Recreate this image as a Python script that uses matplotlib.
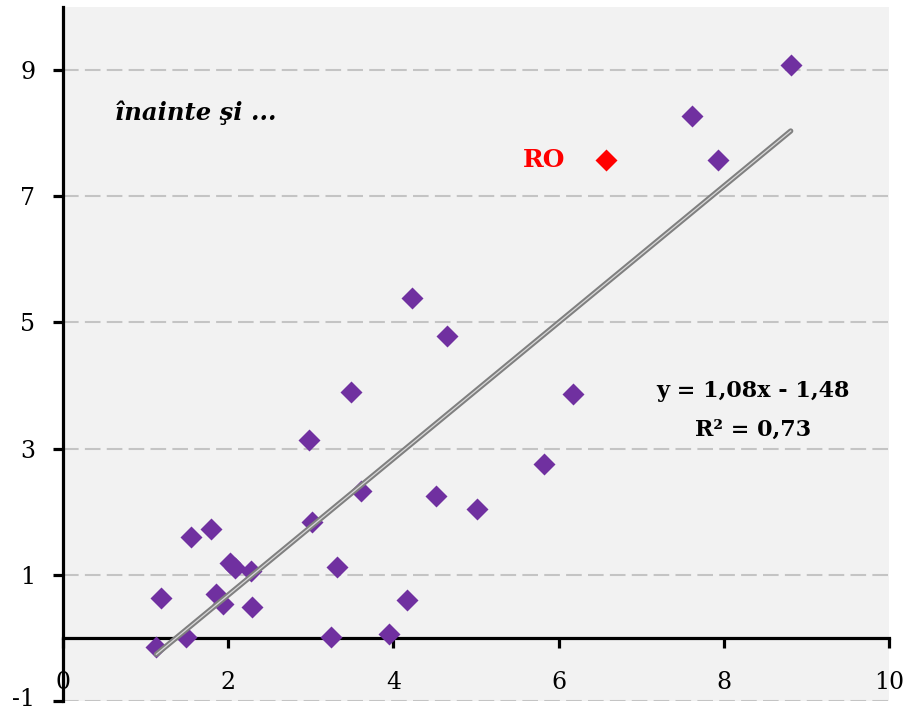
import numpy as np
import matplotlib
matplotlib.use("Agg")
import matplotlib.pyplot as plt
import matplotlib.transforms as mtransforms

plt.rcParams['font.family'] = ['DejaVu Serif']

# country points (x, y)
xs = [8.81, 7.62, 7.93, 4.23, 4.65, 3.49, 6.18, 2.98, 5.82, 3.61,
      4.52, 5.01, 1.79, 1.55, 3.01, 2.02, 2.08, 2.27, 3.32, 1.19,
      1.85, 1.94, 2.29, 4.17, 1.49, 1.13, 3.25, 3.95]
ys = [9.08, 8.27, 7.57, 5.38, 4.78, 3.89, 3.86, 3.14, 2.75, 2.33,
      2.25, 2.05, 1.73, 1.60, 1.83, 1.19, 1.11, 1.06, 1.13, 0.63,
      0.70, 0.54, 0.49, 0.60, 0.01, -0.15, 0.02, 0.06]

ro_x, ro_y = 6.57, 7.57

slope, intercept, r2 = 1.08, -1.48, 0.73

xticks = [0, 2, 4, 6, 8, 10]
yticks = [-1, 1, 3, 5, 7, 9]

fig = plt.figure(figsize=(9.06, 7.13), dpi=100)
ax = fig.add_axes([63/906, 12/713, 826/906, 694/713])
ax.set_facecolor('#f2f2f2')
ax.set_xlim(0, 10)
ax.set_ylim(-1, 10)

for yv in yticks:
    ax.axhline(yv, color='#c4c4c4', lw=1.5, ls=(0, (7.5, 3)), zorder=1)

ax.plot(xs, ys, 'D', color='#7030a0', ms=11.5, mec='none', zorder=3)
ax.plot([ro_x], [ro_y], 'D', color='#ff0000', ms=11.5, mec='none', zorder=3)
ax.text(6.08, ro_y, 'RO', color='#ff0000', fontsize=18, fontweight='bold',
        ha='right', va='center', zorder=5)

# trend line over the country range
tx = np.array([min(xs), max(xs)])
ty = slope * tx + intercept
ax.plot(tx, ty, color='#808080', lw=3.8, solid_capstyle='round', zorder=4)
ax.plot(tx, ty, color='#d8d8d8', lw=0.9, zorder=4)

eq = 'y = {:.2f}x - {:.2f}'.format(slope, -intercept).replace('.', ',')
ax.text(8.35, 3.92, eq, fontsize=16, fontweight='bold', ha='center', va='center', zorder=5)
ax.text(8.35, 3.3, 'R² = {:.2f}'.format(r2).replace('.', ','), fontsize=16,
        fontweight='bold', ha='center', va='center', zorder=5)

ax.text(0.63, 8.33, 'înainte şi ...', fontsize=17.5, fontweight='bold',
        fontstyle='italic', ha='left', va='center', zorder=5)

for s in ['top', 'right']:
    ax.spines[s].set_visible(False)
ax.spines['left'].set_linewidth(2.3)
ax.spines['bottom'].set_linewidth(2.3)
ax.spines['bottom'].set_position(('data', 0))

ax.set_xticks(xticks)
ax.set_yticks(yticks)
ax.set_xticklabels([str(v) for v in xticks])
ax.set_yticklabels([str(v) for v in yticks])
ax.tick_params(axis='x', direction='out', length=7, width=2.3, pad=17,
               labelsize=17)
ax.tick_params(axis='y', direction='out', length=7, width=2.3, pad=13,
               labelsize=17)

# lift the bottom label a little so it stays inside the figure
lab = ax.get_yticklabels()[0]
lab.set_transform(lab.get_transform() +
                  mtransforms.ScaledTranslation(0, 3/72, fig.dpi_scale_trans))

fig.savefig('out.png', dpi=100)
